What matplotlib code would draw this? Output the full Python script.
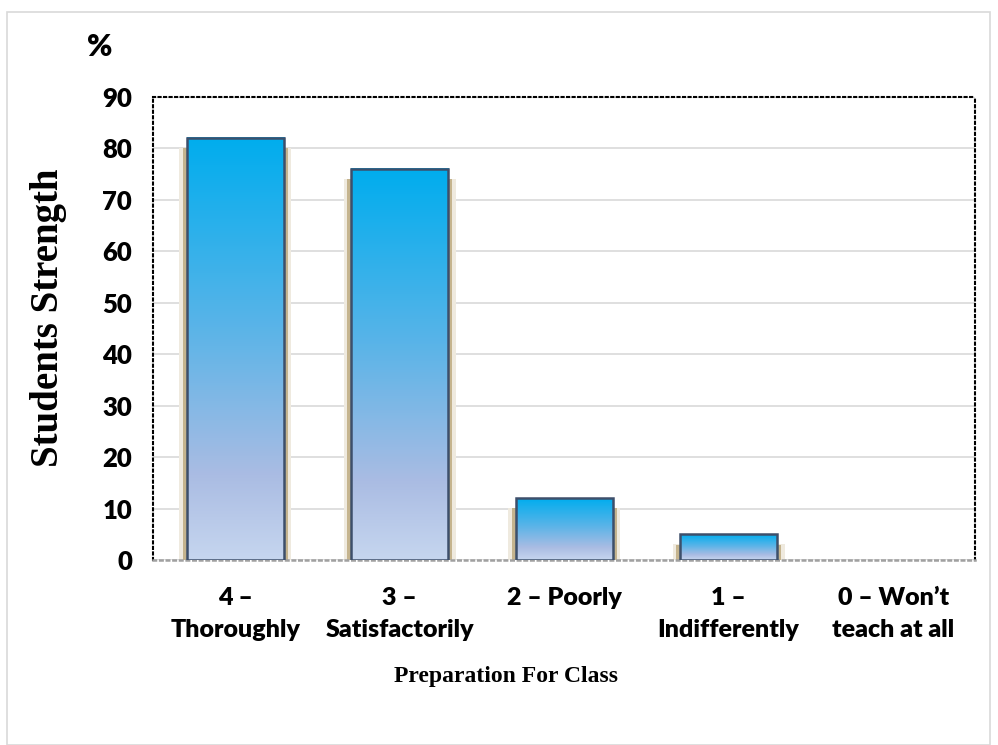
import numpy as np
import matplotlib.pyplot as plt
from matplotlib.colors import LinearSegmentedColormap
from matplotlib.patches import Rectangle

categories = ['4 \u2013\nThoroughly', '3 \u2013\nSatisfactorily', '2 \u2013 Poorly',
              '1 \u2013\nIndifferently', '0 \u2013 Won\u2019t\nteach at all']
values = [82, 76, 12, 5, 0]
y_ticks = [0, 10, 20, 30, 40, 50, 60, 70, 80, 90]

fig = plt.figure(figsize=(9.98, 7.45), dpi=100)
# outer chart border
fig.patches.append(Rectangle((0.007, 0.0), 0.985, 0.984, transform=fig.transFigure,
                             fill=False, edgecolor='#d9d9d9', linewidth=1.2))

ax = fig.add_axes([0.1533, 0.248, 0.824, 0.622])

grad = LinearSegmentedColormap.from_list(
    'g', [(0.0, '#c6d6ef'), (0.2, '#aabce3'), (0.55, '#5ab4e8'), (1.0, '#00adee')])
width = 0.59
x = np.arange(len(values))

for xi, v in zip(x, values):
    if v <= 0:
        continue
    # soft shadow
    ax.add_patch(Rectangle((xi - width / 2 - 0.045, -0.7), width + 0.09, v - 1.2,
                           facecolor='#efeadf', edgecolor='none', zorder=2))
    ax.add_patch(Rectangle((xi - width / 2 - 0.025, -0.45), width + 0.05, v - 1.5,
                           facecolor='#c5b48e', edgecolor='none', zorder=2))
    g = np.linspace(0, 1, 256).reshape(-1, 1)
    ax.imshow(g, cmap=grad, origin='lower', aspect='auto', zorder=3,
              extent=(xi - width / 2, xi + width / 2, 0, v))
    ax.bar(xi, v, width=width, facecolor='none', edgecolor='#3d4f6b',
           linewidth=1.8, zorder=4)

ax.set_xlim(-0.5, 4.5)
ax.set_ylim(0, 90)

ax.set_yticks(y_ticks)
ax.yaxis.grid(True, color='#d9d9d9', linewidth=1.2, zorder=0)
ax.set_axisbelow(True)
ax.tick_params(axis='y', length=0, pad=15)
ax.tick_params(axis='x', length=0, pad=19)
ax.set_xticks(x)
ax.set_xticklabels(categories, fontsize=18, fontweight='heavy', family='Lato',
                   linespacing=1.6)
for lbl in ax.get_yticklabels():
    lbl.set_fontsize(18.5)
    lbl.set_fontweight('heavy')
    lbl.set_family('Lato')

for side in ['top', 'left', 'right']:
    ax.spines[side].set_linestyle(':')
    ax.spines[side].set_color('black')
    ax.spines[side].set_linewidth(1.5)
ax.spines['bottom'].set_linestyle(':')
ax.spines['bottom'].set_color('#a0a0a0')
ax.spines['bottom'].set_linewidth(1.8)

fig.text(0.1, 0.937, '%', fontsize=22, fontweight='heavy', family='Lato',
         ha='center', va='center')
fig.text(0.049, 0.573, 'Students Strength', fontsize=28, fontweight='bold',
         family='Liberation Serif', rotation=90, ha='center', va='center')
fig.text(0.507, 0.092, 'Preparation For Class', fontsize=17, fontweight='bold',
         family='Liberation Serif', ha='center', va='center')

fig.savefig('out.png', dpi=100)
